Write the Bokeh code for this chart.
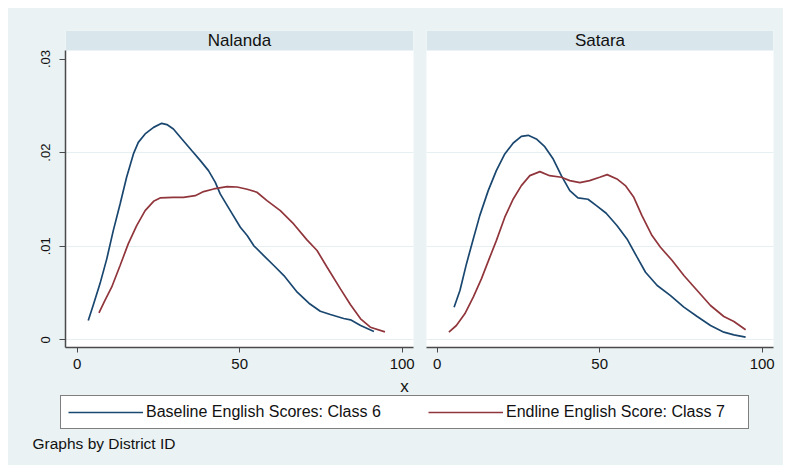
from bokeh.plotting import figure
from bokeh.layouts import row, column
from bokeh.models import Range1d, FixedTicker, BoxAnnotation, Label, Legend, LegendItem
from bokeh.embed import file_html
from bokeh.resources import INLINE

# ---------------- data ----------------
districts = ["Nalanda", "Satara"]
series_labels = ["Baseline English Scores: Class 6", "Endline English Score: Class 7"]

y_ticks = [0, 0.01, 0.02, 0.03]
y_tick_labels = ["0", ".01", ".02", ".03"]
x_ticks = [0, 50, 100]
x_tick_labels = ["0", "50", "100"]
x_title = "x"
note = "Graphs by District ID"

nal_base_x = [3.4, 4.9, 7.0, 9.1, 11.1, 13.2, 15.2, 17.3, 18.8, 20.9, 23.5, 26.0, 27.6, 29.6,
              32.2, 35.3, 37.9, 40.4, 42.5, 44.0, 47.1, 50.2, 52.3, 54.3, 57.4, 60.5, 63.6,
              67.7, 71.3, 74.8, 77.9, 82.0, 84.1, 87.2, 91.3]
nal_base_y = [.00206, .00367, .00598, .00865, .01167, .01452, .01737, .01986, .0211, .0220,
              .0227, .02313, .0230, .02253, .02146, .0202, .01915, .01808, .01683, .01559,
              .01381, .01203, .01114, .01007, .0090, .00794, .00687, .00509, .00391, .00306,
              .0027, .00228, .00214, .00153, .00089]

nal_end_x = [6.7, 8.5, 10.6, 13.2, 15.7, 18.3, 20.9, 23.5, 25.5, 29.6, 32.7, 36.3, 38.9, 42.0,
             46.1, 49.2, 52.3, 55.3, 58.4, 62.5, 66.6, 70.7, 73.8, 76.9, 81.0, 84.1, 87.2,
             90.2, 94.7]
nal_end_y = [.00288, .0042, .00562, .00794, .01025, .0122, .01381, .0148, .01516, .01523,
             .01523, .0154, .01584, .01612, .01637, .01633, .01609, .01577, .01488, .01381,
             .01238, .01068, .00954, .00776, .00544, .00374, .00224, .00135, .00085]

sat_base_x = [5.2, 7.0, 9.0, 11.1, 13.1, 15.7, 18.2, 20.8, 23.4, 25.9, 28.0, 30.5, 33.1, 35.7,
              38.2, 40.8, 43.3, 46.4, 49.0, 52.0, 55.3, 58.4, 61.5, 64.1, 67.7, 71.8, 75.9,
              80.0, 84.1, 88.2, 91.3, 94.9]
sat_base_y = [.00349, .00527, .00811, .01078, .01327, .01594, .01808, .01986, .02103, .02174,
              .02185, .02146, .02064, .01932, .01754, .01594, .01516, .01502, .01434, .01352,
              .01221, .01078, .00883, .00722, .0058, .00473, .00349, .00249, .00153, .00082,
              .00053, .00028]

sat_end_x = [3.6, 5.9, 8.5, 11.1, 13.6, 16.2, 18.2, 20.8, 23.4, 25.9, 28.5, 31.6, 34.6, 38.2,
             40.8, 43.9, 46.9, 50.0, 52.3, 55.3, 57.9, 60.5, 63.0, 66.1, 68.7, 72.3, 75.9,
             80.0, 84.1, 88.2, 91.3, 94.9]
sat_end_y = [.00082, .00153, .00278, .00456, .00651, .00883, .0106, .0131, .01505, .01648,
             .01754, .01797, .01754, .01737, .01701, .0168, .01701, .01737, .01765, .01719,
             .01648, .01523, .01327, .01114, .00989, .00847, .00687, .00527, .00367, .00249,
             .00196, .00107]

panels = [
    (districts[0], nal_base_x, nal_base_y, nal_end_x, nal_end_y),
    (districts[1], sat_base_x, sat_base_y, sat_end_x, sat_end_y),
]

# ---------------- style ----------------
BG = "#EAF2F3"
STRIP = "#D9E6EB"
GRID = "#E6EFF1"
NAVY = "#1A476F"
MAROON = "#90353B"
AXIS = "#4A4A4A"
FONT = "Liberation Sans"

Y0, Y1 = -0.00082, 0.03305
STRIP_BOTTOM = 0.03091

geo = [
    dict(x0=-3.6, x1=103.48, fw=348, bl=57, br=6, yaxis=True),
    dict(x0=-3.29, x1=103.48, fw=347, bl=7, br=10, yaxis=False),
]

figs = []
for (name, bx, by, ex, ey), g in zip(panels, geo):
    p = figure(frame_width=g["fw"], frame_height=317,
               x_range=Range1d(g["x0"], g["x1"]), y_range=Range1d(Y0, Y1),
               output_backend="svg", toolbar_location=None,
               min_border_left=g["bl"], min_border_right=g["br"],
               min_border_top=22, min_border_bottom=29,
               background_fill_color="white", border_fill_color=BG,
               outline_line_color=None)
    # header strip
    p.add_layout(BoxAnnotation(bottom=STRIP_BOTTOM, fill_color=STRIP, fill_alpha=1,
                               line_color=None, level="underlay"))
    p.add_layout(Label(x=(g["x0"] + g["x1"]) / 2, y=(STRIP_BOTTOM + Y1) / 2, text=name,
                       text_align="center", text_baseline="middle",
                       text_font=FONT, text_font_size="17px", text_color="#111111"))
    p.line(bx, by, line_color=NAVY, line_width=1.7)
    p.line(ex, ey, line_color=MAROON, line_width=1.7)

    # grids
    p.xgrid.visible = False
    p.ygrid.ticker = FixedTicker(ticks=y_ticks[:3])
    p.ygrid.grid_line_color = GRID
    p.ygrid.grid_line_width = 1.2

    # x axis
    xa = p.xaxis[0]
    xa.ticker = FixedTicker(ticks=x_ticks)
    xa.major_label_overrides = {t: l for t, l in zip(x_ticks, x_tick_labels)}
    xa.minor_tick_line_color = None
    xa.major_tick_in = 0
    xa.major_tick_out = 5
    xa.major_tick_line_color = AXIS
    xa.axis_line_color = AXIS
    xa.axis_line_width = 1.5
    xa.major_label_standoff = 6
    xa.major_label_text_font = FONT
    xa.major_label_text_font_size = "15px"
    xa.major_label_text_color = "#111111"

    ya = p.yaxis[0]
    if g["yaxis"]:
        ya.ticker = FixedTicker(ticks=y_ticks)
        ya.major_label_overrides = {t: l for t, l in zip(y_ticks, y_tick_labels)}
        ya.bounds = (Y0, STRIP_BOTTOM)
        ya.minor_tick_line_color = None
        ya.major_tick_in = 0
        ya.major_tick_out = 6
        ya.major_tick_line_color = AXIS
        ya.axis_line_color = AXIS
        ya.axis_line_width = 1.5
        ya.major_label_orientation = "vertical"
        ya.major_label_standoff = 9
        ya.major_label_text_font = FONT
        ya.major_label_text_font_size = "13px"
        ya.major_label_text_color = "#111111"
    else:
        ya.visible = False
    figs.append(p)

# ---------------- bottom: x title, legend, note ----------------
q = figure(width=775, height=89, x_range=Range1d(0, 1), y_range=Range1d(0, 1),
           x_axis_type=None, y_axis_type=None, output_backend="svg",
           toolbar_location=None, min_border=0, outline_line_color=None,
           background_fill_color=BG, border_fill_color=BG)
# legend sample renderers (series data lies outside this strip's view range)
r1 = q.line(nal_base_x, nal_base_y, line_color=NAVY, line_width=1.7)
r2 = q.line(nal_end_x, nal_end_y, line_color=MAROON, line_width=1.7)
legend = Legend(items=[LegendItem(label=series_labels[0], renderers=[r1]),
                       LegendItem(label=series_labels[1], renderers=[r2])],
                location=(52, 36), orientation="horizontal",
                glyph_width=75, glyph_height=16, label_width=235, spacing=47,
                label_standoff=3, padding=7, margin=0,
                border_line_color="black", border_line_width=1.2,
                background_fill_color="white", background_fill_alpha=1,
                label_text_font=FONT, label_text_font_size="16px",
                label_text_color="#111111")
q.add_layout(legend)
q.add_layout(Label(x=396, y=79, x_units="screen", y_units="screen", text=x_title,
                   text_align="center", text_baseline="middle",
                   text_font=FONT, text_font_size="17px", text_color="#111111"))
q.add_layout(Label(x=24, y=22, x_units="screen", y_units="screen", text=note,
                   text_align="left", text_baseline="middle",
                   text_font=FONT, text_font_size="15.5px", text_color="#111111"))

top = row(figs[0], figs[1], spacing=0, styles={"background-color": BG})
layout = column(top, q, spacing=0, margin=(8, 8, 0, 8),
                styles={"background-color": BG})

open("out.html", "w").write(file_html(layout, INLINE))
